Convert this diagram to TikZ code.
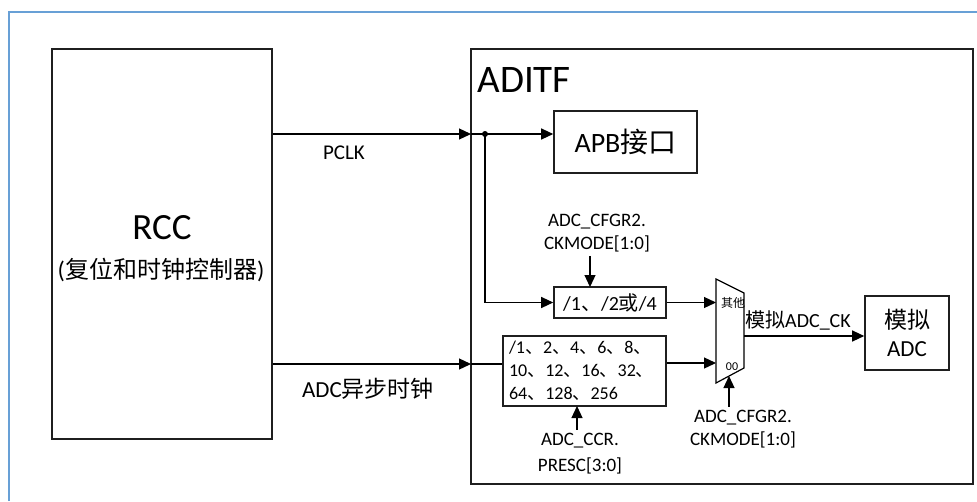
\documentclass[tikz,border=0pt]{standalone}
\usepackage{fontspec}
\setmainfont{Carlito}
\newfontfamily\cjk{Noto Sans CJK SC}
\usetikzlibrary{arrows.meta,positioning}
\definecolor{framecol}{RGB}{104,160,214}
\newcommand{\dun}{{\cjk 、}}

\begin{document}
\begin{tikzpicture}[x=1pt,y=-1pt,>={Triangle[length=12pt,width=11pt]},
        blk/.style={rectangle, draw=black!88, line width=1.6pt, inner sep=0pt},
        wire/.style={line width=1.2pt},
        fs/.style args={#1/#2}{font=\fontsize{#1}{#2}\selectfont}]
        \useasboundingbox (0,0) rectangle (977,501);
        \draw[framecol, line width=2pt] (9,501) -- (9,12) -- (977,12);
        \node[blk, minimum width=220, minimum height=390] at (162,244) (rcc) {};
        \node[fs=37/44] at (162,228) (rcctitle) {RCC};
        \node[fs=24/29] at (161,270) (rccsub) {({\cjk 复位和时钟控制器})};
        \node[blk, minimum width=502, minimum height=435] at (722,266.5) (aditf) {};
        \node[fs=39/46, anchor=west] at (474,80) (aditftitle) {ADITF};
        \node[blk, fs=28/34, minimum width=143, minimum height=62] at (625.5,142) (apb) {APB{\cjk 接口}};
        \node[blk, fs=20/24, minimum width=112, minimum height=31] at (610,302.5) (div) {/1\dun/2{\cjk 或}/4};
        \node[blk, fs=18/23, minimum height=70, text width=151, inner xsep=6pt, align=left] at (584.5,371) (presc) {/1\dun2\dun4\dun6\dun8\dun\\10\dun12\dun16\dun32\dun\\64\dun128\dun256};
        \node[blk, fs=23/28, minimum width=84, minimum height=74, align=center] at (907,333) (adc) {{\cjk 模拟}\\ADC};
        \coordinate (muxa) at (716,279);
        \coordinate (muxb) at (744,293);
        \coordinate (muxc) at (744,368);
        \coordinate (muxd) at (716,383);
        \draw[wire] (muxa) -- (muxb) -- (muxc) -- (muxd) -- cycle;
        \node[fs=12/14] at (733,303) (muxother) {\cjk 其他};
        \node[fs=12/14] at (732,367) (muxzero) {00};
        \coordinate (inother) at (716,302);
        \coordinate (inzero) at (716,363);
        \coordinate (muxout) at (744,336);
        \coordinate (muxsel) at (729,376);
        \node[fs=21/25] at (344,153) (pclk) {PCLK};
        \node[fs=23/28] at (368,389) (async) {ADC{\cjk 异步时钟}};
        \node[fs=20/24] at (798,320) (ckout) {{\cjk 模拟}ADC\_CK};
        \node[fs=19/23, align=center] at (597,233.5) (seldiv) {ADC\_CFGR2.\\CKMODE[1:0]};
        \node[fs=19/26, align=center] at (580,453.5) (selpresc) {ADC\_CCR.\\PRESC[3:0]};
        \node[fs=19/23, align=center] at (743,429) (selmux) {ADC\_CFGR2.\\CKMODE[1:0]};
        \coordinate (pclkin) at (471,134);
        \coordinate (tap) at (485,134);
        \coordinate (asyncin) at (471,364);
        \coordinate (divsel) at (590,287);
        \coordinate (prescsel) at (577,406);
        \draw[->,wire] (rcc.east |- pclkin) -- (pclkin);
        \draw[wire] (pclkin) -- (tap);
        \draw[->,wire] (tap) -- (tap -| apb.west);
        \draw[->,wire] (tap) |- (div.west);
        \fill (tap) circle (3);
        \draw[->,wire] (rcc.east |- asyncin) -- (asyncin);
        \draw[wire] (asyncin) -- (asyncin -| presc.west);
        \draw[->,wire] (div.east) -- (div.east -| inother);
        \draw[->,wire] (presc.east |- inzero) -- (inzero);
        \draw[->,wire] (muxout) -- (muxout -| adc.west);
        \draw[->,wire] (seldiv.south -| divsel) -- (divsel);
        \draw[->,wire] (selpresc.north -| prescsel) -- (prescsel);
        \draw[->,wire] (selmux.north -| muxsel) -- (muxsel);
      \end{tikzpicture}
\end{document}
